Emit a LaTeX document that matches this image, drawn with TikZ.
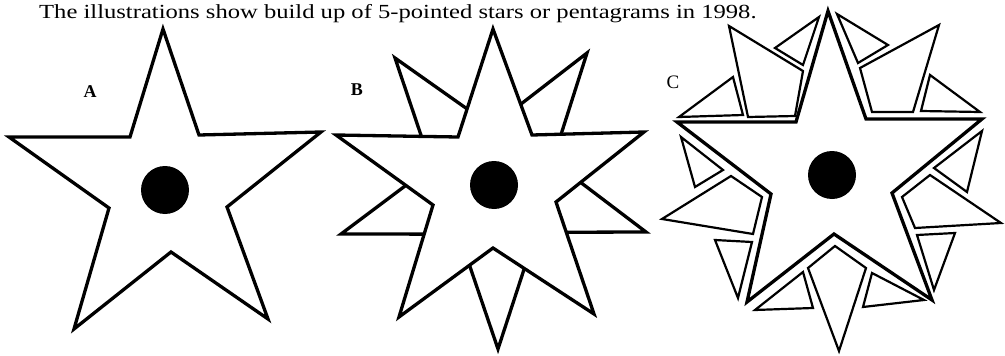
\documentclass[tikz,border=0pt]{standalone}
\usepackage{fontspec}
\setmainfont{Liberation Serif}
\usetikzlibrary{calc}
\begin{document}
\begin{tikzpicture}[x=1pt,y=-1pt,
  outl/.style={line width=3.3pt, line join=miter, miter limit=12},
  kite/.style={line width=3.3pt, line join=miter, miter limit=12},
  thinoutl/.style={line width=2.2pt, line join=miter, miter limit=12},
  dot/.style={circle, fill=black, inner sep=0pt, minimum size=48pt},
  lbl/.style={inner sep=0pt, font=\fontsize{18}{18}\selectfont\bfseries},
  lblr/.style={inner sep=0pt, font=\fontsize{19}{19}\selectfont}]
\fill[white] (0,0) rectangle (1005,356);
\useasboundingbox (0,0) rectangle (1005,356);

\node[anchor=base west, inner sep=0pt, font=\fontsize{20}{24}\selectfont] (title) at (39,18)
  {\scalebox{1.23}[1]{The illustrations show build up of 5-pointed stars or pentagrams in 1998.}};

% ---------- Star A ----------
\coordinate (ATt) at (163,29);
\coordinate (AIur) at (199,135);
\coordinate (ATr) at (321,132);
\coordinate (AIr) at (227,207);
\coordinate (ATbr) at (268,319);
\coordinate (AIb) at (171,252);
\coordinate (ATbl) at (74,329);
\coordinate (AIl) at (109,208);
\coordinate (ATl) at (9,137);
\coordinate (AIul) at (130,137);
\draw[outl] (ATt)--(AIur)--(ATr)--(AIr)--(ATbr)--(AIb)--(ATbl)--(AIl)--(ATl)--(AIul)--cycle;
\node[dot] (dotA) at (165,190) {};
\node[lbl] (labA) at (90,92) {A};

% ---------- Star B ----------
\coordinate (BTt) at (493,29);
\coordinate (BIur) at (532,135);
\coordinate (BTr) at (644,132);
\coordinate (BIr) at (556,202);
\coordinate (BTbr) at (594,314);
\coordinate (BIb) at (493,248);
\coordinate (BTbl) at (399,317);
\coordinate (BIl) at (433,205);
\coordinate (BTl) at (336,135);
\coordinate (BIul) at (458,137);
\coordinate (BkTL) at (395,58);
\coordinate (BkTR) at (587,53);
\coordinate (BkR) at (646,232);
\coordinate (BkB) at (498,349);
\coordinate (BkL) at (341,234);
\draw[kite] ($(BTl)!0.70!(BIul)$) -- (BkTL) -- ($(BIul)!0.26!(BTt)$);
\draw[kite] ($(BTt)!0.71!(BIur)$) -- (BkTR) -- ($(BIur)!0.26!(BTr)$);
\draw[kite] ($(BTr)!0.72!(BIr)$) -- (BkR) -- ($(BIr)!0.27!(BTbr)$);
\draw[kite] ($(BTbr)!0.69!(BIb)$) -- (BkB) -- ($(BIb)!0.25!(BTbl)$);
\draw[kite] ($(BTbl)!0.74!(BIl)$) -- (BkL) -- ($(BIl)!0.28!(BTl)$);
\draw[outl] (BTt)--(BIur)--(BTr)--(BIr)--(BTbr)--(BIb)--(BTbl)--(BIl)--(BTl)--(BIul)--cycle;
\node[dot] (dotB) at (494,185) {};
\node[lbl] (labB) at (357,90) {B};

% ---------- Star C ----------
\coordinate (CTt) at (828,11);
\coordinate (CIur) at (866,119);
\coordinate (CTr) at (982,119);
\coordinate (CIr) at (892,193);
\coordinate (CTbr) at (932,300);
\coordinate (CIb) at (834,234);
\coordinate (CTbl) at (747,302);
\coordinate (CIl) at (771,194);
\coordinate (CTl) at (677,122);
\coordinate (CIul) at (796,122);
\draw[outl] (CTt)--(CIur)--(CTr)--(CIr)--(CTbr)--(CIb)--(CTbl)--(CIl)--(CTl)--(CIul)--cycle;

% notch upper left
\draw[thinoutl] (748,117) -- (729,26) -- (803,71) -- (795,116) -- cycle;
\draw[thinoutl] (775,48) -- (819,17) -- (803,65) -- cycle;
\draw[thinoutl] (679,117) -- (733,77) -- (743,115) -- cycle;
% notch upper right
\draw[thinoutl] (860,68) -- (939,25) -- (913,112) -- (872,112) -- cycle;
\draw[thinoutl] (837,14) -- (888,45) -- (858,63) -- cycle;
\draw[thinoutl] (930,75) -- (921,111) -- (980,112) -- cycle;
% notch right
\draw[thinoutl] (930,175) -- (1001,223) -- (915,228) -- (902,197) -- cycle;
\draw[thinoutl] (982,131) -- (934,168) -- (967,192) -- cycle;
\draw[thinoutl] (917,235) -- (955,233) -- (934,290) -- cycle;
% notch bottom
\draw[thinoutl] (835,246) -- (866,268) -- (839,351) -- (808,268) -- cycle;
\draw[thinoutl] (872,273) -- (924,300) -- (863,307) -- cycle;
\draw[thinoutl] (803,272) -- (755,310) -- (813,308) -- cycle;
% notch left
\draw[thinoutl] (731,176) -- (662,219) -- (753,234) -- (762,197) -- cycle;
\draw[thinoutl] (681,137) -- (723,170) -- (695,187) -- cycle;
\draw[thinoutl] (715,240) -- (752,242) -- (738,298) -- cycle;

\node[dot] (dotC) at (832,175) {};
\node[lblr] (labC) at (673,82) {C};
\end{tikzpicture}
\end{document}
